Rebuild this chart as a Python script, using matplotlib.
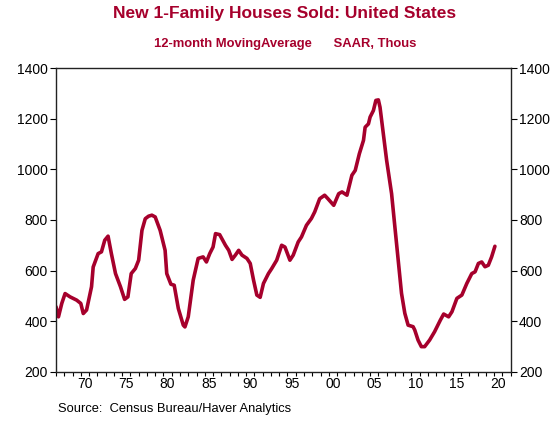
import matplotlib
matplotlib.use("Agg")
import matplotlib.pyplot as plt
from matplotlib.ticker import FixedLocator, NullFormatter, FixedFormatter

plt.rcParams['font.family'] = ['Liberation Sans', 'DejaVu Sans']

# Decimal-year dates and 12-month moving average of new 1-family houses sold (SAAR, thous)
dates = [1967.0, 1967.3, 1967.7, 1968.1, 1968.7, 1969.5, 1970.0, 1970.3, 1970.7, 1971.3, 1971.5,
         1972.1, 1972.5, 1972.9, 1973.3, 1973.7, 1974.2, 1974.8, 1975.3, 1975.7, 1976.1,
         1976.6, 1977.0, 1977.4, 1977.8, 1978.2, 1978.6, 1979.0, 1979.6, 1980.2, 1980.4,
         1980.9, 1981.3, 1981.8, 1982.4, 1982.6, 1983.0, 1983.6, 1984.2, 1984.8, 1985.2,
         1985.6, 1986.0, 1986.3, 1986.8, 1987.5, 1987.9, 1988.3, 1988.7, 1989.1, 1989.5,
         1990.1, 1990.5, 1990.9, 1991.3, 1991.7, 1992.1, 1992.7, 1993.1, 1993.7, 1994.3,
         1994.7, 1995.3, 1995.7, 1996.3, 1996.7, 1997.3, 1997.9, 1998.3, 1998.9, 1999.5,
         1999.9, 2000.6, 2001.2, 2001.6, 2002.2, 2002.8, 2003.2, 2003.7, 2004.2, 2004.4,
         2004.8, 2005.0, 2005.4, 2005.7, 2006.0, 2006.2, 2006.6, 2007.0, 2007.6, 2008.0,
         2008.4, 2008.8, 2009.2, 2009.6, 2010.2, 2010.4, 2010.8, 2011.2, 2011.6, 2012.2,
         2012.8, 2013.5, 2013.9, 2014.5, 2014.9, 2015.5, 2016.1, 2016.7, 2017.3, 2017.7,
         2018.1, 2018.5, 2018.9, 2019.3, 2019.7, 2020.1]
sales = [457, 417, 470, 509, 496, 483, 470, 430, 444, 536, 614,
         667, 674, 720, 736, 667, 588, 536, 486, 496, 588,
         608, 641, 759, 805, 815, 819, 812, 759, 680, 588,
         546, 542, 450, 384, 377, 417, 562, 648, 654, 634,
         667, 693, 746, 742, 700, 680, 644, 661, 680, 661,
         648, 628, 562, 503, 494, 549, 588, 608, 641, 700,
         693, 641, 661, 713, 733, 779, 806, 832, 884, 898,
         884, 858, 904, 911, 898, 977, 996, 1062, 1115, 1167,
         1180, 1207, 1233, 1273, 1275, 1246, 1141, 1036, 904, 772,
         641, 510, 431, 384, 378, 365, 325, 299, 299, 325,
         358, 404, 428, 417, 437, 490, 503, 549, 588, 595,
         628, 634, 615, 621, 654, 696]

year_labels = ['70', '75', '80', '85', '90', '95', '00', '05', '10', '15', '20']
label_years = [1970, 1975, 1980, 1985, 1990, 1995, 2000, 2005, 2010, 2015, 2020]
y_ticks = [200, 400, 600, 800, 1000, 1200, 1400]

red = '#A6002C'

fig = plt.figure(figsize=(5.5, 4.33), dpi=100)
ax = fig.add_axes([0.1018, 0.1416, 0.8266, 0.7007])
ax.plot(dates, sales, color=red, lw=2.6, solid_joinstyle='round', solid_capstyle='round')

ax.set_xlim(1967, 2022)
ax.set_ylim(200, 1400)

ax.xaxis.set_major_locator(FixedLocator(list(range(1967, 2023))))
ax.xaxis.set_major_formatter(NullFormatter())
ax.xaxis.set_minor_locator(FixedLocator([y + 0.5 for y in label_years]))
ax.xaxis.set_minor_formatter(FixedFormatter(year_labels))
ax.tick_params(axis='x', which='major', length=3, width=0.8, direction='out')
ax.tick_params(axis='x', which='minor', length=0, labelsize=10, pad=4)

ax.set_yticks(y_ticks)
ax.set_yticklabels([str(v) for v in y_ticks])
ax.tick_params(axis='y', which='major', length=4, width=0.8, direction='out',
               labelsize=10, left=True, right=True, labelleft=True, labelright=True, pad=2)

for s in ax.spines.values():
    s.set_linewidth(1.0)
    s.set_color('#222222')

fig.text(0.518, 0.968, 'New 1-Family Houses Sold: United States', color=red,
         fontsize=12.5, fontweight='bold', ha='center', va='center')
fig.text(0.518, 0.898, '12-month MovingAverage      SAAR, Thous', color=red,
         fontsize=9.4, fontweight='bold', ha='center', va='center')
fig.text(0.105, 0.055, 'Source:  Census Bureau/Haver Analytics', color='black',
         fontsize=9.3, ha='left', va='center')

fig.savefig('out.png', dpi=100)
